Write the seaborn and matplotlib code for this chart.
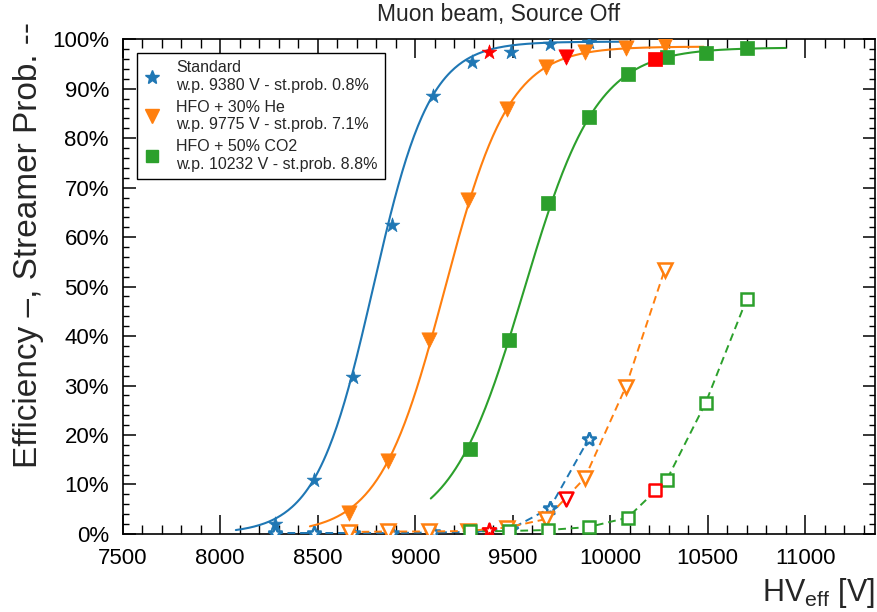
import numpy as np
import pandas as pd
import matplotlib
matplotlib.use("Agg")
import matplotlib.pyplot as plt
import seaborn as sns
from matplotlib.ticker import MultipleLocator, FuncFormatter
from matplotlib.lines import Line2D

# HV_eff scan points [V]
hv_std = [8280, 8480, 8680, 8880, 9090, 9290, 9490, 9690, 9890]
hv_he = [8660, 8860, 9070, 9270, 9470, 9670, 9870, 10080, 10280]
hv_co2 = [9280, 9480, 9680, 9890, 10090, 10290, 10490, 10700]

# efficiency [%]
eff_std = [2.0, 11.0, 31.8, 62.4, 88.6, 95.4, 97.5, 99.0, 99.4]
eff_he = [4.2, 14.7, 39.2, 67.5, 85.9, 94.3, 97.4, 98.2, 98.8]
eff_co2 = [17.2, 39.2, 66.9, 84.2, 92.9, 96.4, 97.2, 98.2]

# streamer probability [%]
str_std = [0.2, 0.2, 0.2, 0.2, 0.3, 0.4, 1.0, 5.2, 19.2]
str_he = [0.4, 0.5, 0.5, 0.6, 1.3, 3.0, 11.3, 29.7, 53.4]
str_co2 = [0.5, 0.6, 0.8, 1.4, 3.3, 10.9, 26.5, 47.4]

# working points
wp_hv = [9380, 9775, 10232]
wp_eff = [97.4, 96.4, 96.0]
wp_str = [0.8, 7.1, 8.8]

# sigmoid fit parameters (plateau %, slope 1/V, HV50 V)
fit_emax = [99.5, 98.5, 98.3]
fit_lambda = [0.00685, 0.0060, 0.00533]
fit_hv50 = [8784, 9150, 9557]

mixtures = ["Standard", "HFO + 30% He", "HFO + 50% CO2"]
colors = ["#1f77b4", "#ff7f0e", "#2ca02c"]
markers = ["*", "v", "s"]
msizes = [11, 11, 10]

sns.set_theme(style="ticks")
plt.rcParams["font.family"] = ["Liberation Sans", "DejaVu Sans"]
plt.rcParams["mathtext.default"] = "regular"

fig = plt.figure(figsize=(8.77, 6.12), dpi=100)
ax = fig.add_axes([0.140, 0.1275, 0.858, 0.8085])

hvs = [hv_std, hv_he, hv_co2]
effs = [eff_std, eff_he, eff_co2]
strs = [str_std, str_he, str_co2]

for i in range(3):
    c = colors[i]
    # fit curve
    grid = np.linspace(hvs[i][0] - 200, hvs[i][-1] + 200, 300)
    curve = fit_emax[i] / (1 + np.exp(-fit_lambda[i] * (grid - fit_hv50[i])))
    sns.lineplot(x=grid, y=curve, color=c, lw=1.5, ax=ax, zorder=2)
    # streamer probability
    sns.lineplot(x=hvs[i], y=strs[i], color=c, lw=1.4, linestyle=(0, (4, 2.5)),
                 marker=markers[i], markersize=msizes[i] - 1, markerfacecolor="white",
                 markeredgecolor=c, markeredgewidth=1.8, ax=ax, zorder=3)
    # efficiency points
    sns.scatterplot(x=hvs[i], y=effs[i], color=c, marker=markers[i],
                    s=msizes[i] ** 2, edgecolor=c, linewidth=0.5, ax=ax, zorder=4)

for i in range(3):
    sns.scatterplot(x=[wp_hv[i]], y=[wp_eff[i]], color="red", marker=markers[i],
                    s=msizes[i] ** 2, edgecolor="red", linewidth=0.5, ax=ax, zorder=5)
    sns.scatterplot(x=[wp_hv[i]], y=[wp_str[i]], color="white", marker=markers[i],
                    s=(msizes[i] - 1) ** 2, edgecolor="red", linewidth=1.8, ax=ax, zorder=5)

ax.set_xlim(7500, 11360)
ax.set_ylim(0, 100)
ax.xaxis.set_major_locator(MultipleLocator(500))
ax.xaxis.set_minor_locator(MultipleLocator(100))
ax.yaxis.set_major_locator(MultipleLocator(10))
ax.yaxis.set_minor_locator(MultipleLocator(2))
ax.yaxis.set_major_formatter(FuncFormatter(lambda v, p: f"{v:.0f}%"))
ax.tick_params(which="both", direction="in", top=True, right=True, colors="black",
               labelsize=16)
ax.tick_params(axis="x", which="major", length=13.5, width=1.1, pad=10)
ax.tick_params(axis="x", which="minor", length=6.5, width=1.0)
ax.tick_params(axis="y", which="major", length=9, width=1.1, pad=10)
ax.tick_params(axis="y", which="minor", length=4.5, width=1.0)
for sp in ax.spines.values():
    sp.set_color("black")
    sp.set_linewidth(1.2)

ax.set_title("Muon beam, Source Off", fontsize=16.5, pad=13)
ax.set_xlabel("HV$_{eff}$ [V]", fontsize=22, loc="right")
ax.xaxis.set_label_coords(1.0, -0.085)
ax.set_ylabel("Efficiency –, Streamer Prob. --", fontsize=24, loc="top")
ax.yaxis.set_label_coords(-0.105, 1.034)

handles = [Line2D([], [], marker=markers[i], color=colors[i], linestyle="none",
                  markersize=msizes[i] - 1) for i in range(3)]
labels = [f"{mixtures[i]}\nw.p. {wp_hv[i]} V - st.prob. {wp_str[i]}%" for i in range(3)]
leg = ax.legend(handles, labels, loc="upper left", bbox_to_anchor=(0.019, 0.972),
                fontsize=11.5, frameon=True, fancybox=False, edgecolor="black",
                framealpha=1, handlelength=1.0, handletextpad=1.0,
                labelspacing=0.45, borderpad=0.45, borderaxespad=0)
leg.get_frame().set_linewidth(1.0)

fig.savefig("out.png", dpi=100)
